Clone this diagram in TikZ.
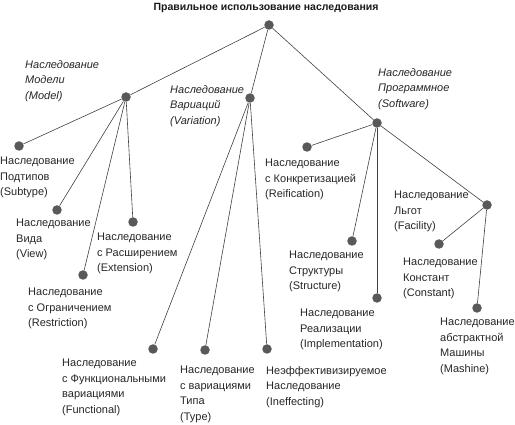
\documentclass[tikz,border=0pt]{standalone}
\usepackage{fontspec}
\setmainfont{Liberation Sans}
\usetikzlibrary{arrows,shapes}

\begin{document}
\begin{tikzpicture}[x=1pt, y=-1pt,
    dot/.style={circle, fill=black!65, inner sep=0pt, minimum size=9.5pt},
    lbl/.style={anchor=north west, align=left, inner sep=0pt, text=black!85,
      font=\fontsize{11}{15.5}\selectfont},
    ilbl/.style={lbl, font=\fontsize{11}{15.5}\selectfont\itshape}]
    \useasboundingbox (0,0) rectangle (515,425);
    \node[anchor=base, font=\bfseries\fontsize{10.5}{12}\selectfont, text=black!90] (title) at (266,11)
      {Правильное использование наследования};

    % dots
    \node[dot] (root) at (269,25) {};
    \node[dot] (model) at (126,97) {};
    \node[dot] (variation) at (250,98) {};
    \node[dot] (software) at (377,123) {};
    \node[dot] (subtype) at (19,146) {};
    \node[dot] (view) at (57,210) {};
    \node[dot] (extension) at (133,222) {};
    \node[dot] (restriction) at (83,275) {};
    \node[dot] (functional) at (153,349) {};
    \node[dot] (type) at (205,350) {};
    \node[dot] (ineffecting) at (267,349) {};
    \node[dot] (reification) at (307,147) {};
    \node[dot] (structure) at (352,241) {};
    \node[dot] (implementation) at (377,298) {};
    \node[dot] (facility) at (487,205) {};
    \node[dot] (constant) at (439,244) {};
    \node[dot] (machine) at (477,308) {};

    % labels
    \node[ilbl] (modelText) at (25,60) {Наследование\\Модели\\(Model)};
    \node[ilbl] (variationText) at (170,85) {Наследование\\Вариаций\\(Variation)};
    \node[ilbl] (softwareText) at (378,68) {Наследование\\Программное\\(Software)};
    \node[lbl] (subtypeText) at (0,157) {Наследование\\Подтипов\\(Subtype)};
    \node[lbl] (reificationText) at (265,159) {Наследование\\с Конкретизацией\\(Reification)};
    \node[lbl] (viewText) at (16,219) {Наследование\\Вида\\(View)};
    \node[lbl] (extensionText) at (97,233) {Наследование\\с Расширением\\(Extension)};
    \node[lbl] (restrictionText) at (28,288) {Наследование\\с Ограничением\\(Restriction)};
    \node[lbl] (functionalText) at (62,359) {Наследование\\с Функциональными\\вариациями\\(Functional)};
    \node[lbl] (typeText) at (180,366) {Наследование\\с вариациями\\Типа\\(Type)};
    \node[lbl] (ineffectingText) at (266,366) {Неэффективизируемое\\Наследование\\(Ineffecting)};
    \node[lbl] (structureText) at (289,251) {Наследование\\Структуры\\(Structure)};
    \node[lbl] (implementationText) at (300,309) {Наследование\\Реализации\\(Implementation)};
    \node[lbl] (facilityText) at (394,191) {Наследование\\Льгот\\(Facility)};
    \node[lbl] (constantText) at (403,258) {Наследование\\Констант\\(Constant)};
    \node[lbl] (machineText) at (440,318) {Наследование\\абстрактной\\Машины\\(Mashine)};

    \path[draw=black!75, line width=0.6pt]
      (root) edge (model) edge (variation) edge (software)
      (model) edge (subtype) edge (view) edge (restriction) edge (extension)
      (variation) edge (functional) edge (type) edge (ineffecting)
      (software) edge (reification) edge (structure) edge (implementation) edge (facility)
      (facility) edge (constant) edge (machine);
\end{tikzpicture}
\end{document}
